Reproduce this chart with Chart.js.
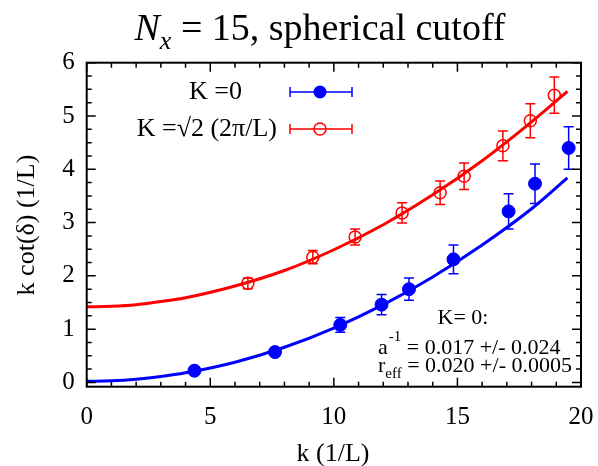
<!DOCTYPE html>
<html>
<head>
<meta charset="utf-8">
<script src="https://cdn.jsdelivr.net/npm/chart.js@4.4.1/dist/chart.umd.min.js"></script>
<style>
  html, body { margin: 0; padding: 0; background: #fff; }
  #wrap { width: 598px; height: 466px; }
</style>
</head>
<body>
<div id="wrap"><canvas id="phaseChart"></canvas></div>
<script>
// K = 0 frame (filled circles)
const blueK   = [4.36, 7.62, 10.26, 11.93, 13.04, 14.84, 17.07, 18.14, 19.50];
const blueV   = [0.22, 0.57, 1.08, 1.46, 1.75, 2.31, 3.21, 3.73, 4.40];
const blueErr = [0.06, 0.07, 0.14, 0.19, 0.21, 0.27, 0.33, 0.37, 0.40];

// K = sqrt(2) (2pi/L) frame (open circles)
const redK   = [6.52, 9.15, 10.86, 12.76, 14.30, 15.27, 16.84, 17.95, 18.92];
const redV   = [1.86, 2.35, 2.73, 3.18, 3.56, 3.87, 4.44, 4.91, 5.39];
const redErr = [0.10, 0.125, 0.15, 0.19, 0.22, 0.25, 0.28, 0.32, 0.34];

// fitted curves, sampled along k
const fitK    = [0, 1, 2, 3, 4, 6, 8, 10, 12, 14, 16, 18, 19.45];
const blueFit = [0.02, 0.03, 0.06, 0.11, 0.18, 0.38, 0.66, 1.02, 1.46, 1.98, 2.58, 3.26, 3.84];
const redFit  = [1.42, 1.43, 1.46, 1.52, 1.59, 1.81, 2.10, 2.49, 2.96, 3.52, 4.16, 4.89, 5.46];

const xTicks = [0, 5, 10, 15, 20];
const yTicks = [0, 1, 2, 3, 4, 5, 6];

const BLUE = '#0000ff';
const RED = '#ff0000';
const serif = '"Liberation Serif", "DejaVu Serif", serif';

const pts = (xs, ys) => xs.map((x, i) => ({ x: x, y: ys[i] }));

// vertical error bars with caps
const errorBars = {
    id: 'errorBars',
    beforeDatasetsDraw(chart) {
        const { ctx, scales: { x, y } } = chart;
        const sets = [[blueK, blueV, blueErr, BLUE], [redK, redV, redErr, RED]];
        ctx.save();
        ctx.lineWidth = 1.5;
        sets.forEach(([ks, vs, es, color]) => {
            ctx.strokeStyle = color;
            ks.forEach((k, i) => {
                const px = x.getPixelForValue(k);
                const top = y.getPixelForValue(vs[i] + es[i]);
                const bot = y.getPixelForValue(vs[i] - es[i]);
                ctx.beginPath();
                ctx.moveTo(px, top); ctx.lineTo(px, bot);
                ctx.moveTo(px - 5, top); ctx.lineTo(px + 5, top);
                ctx.moveTo(px - 5, bot); ctx.lineTo(px + 5, bot);
                ctx.stroke();
            });
        });
        ctx.restore();
    }
};

// frame, inward ticks, title, key and fit text
const decorations = {
    id: 'decorations',
    afterDraw(chart) {
        const { ctx, chartArea: a, scales: { x, y } } = chart;
        ctx.save();

        // ticks on all four sides
        ctx.strokeStyle = '#000';
        ctx.lineWidth = 1.5;
        ctx.beginPath();
        for (let k = 0; k <= 20; k++) {
            const px = x.getPixelForValue(k);
            const len = k % 5 === 0 ? 9 : 5;
            ctx.moveTo(px, a.bottom); ctx.lineTo(px, a.bottom - len);
            ctx.moveTo(px, a.top); ctx.lineTo(px, a.top + len);
        }
        for (let j = 0; j <= 24; j++) {
            const py = y.getPixelForValue(j / 4);
            const len = j % 4 === 0 ? 9 : 5;
            ctx.moveTo(a.left, py); ctx.lineTo(a.left + len, py);
            ctx.moveTo(a.right, py); ctx.lineTo(a.right - len, py);
        }
        ctx.stroke();

        ctx.lineWidth = 2;
        ctx.strokeRect(a.left, a.top, a.right - a.left, a.bottom - a.top);

        ctx.fillStyle = '#000';
        ctx.textBaseline = 'alphabetic';

        // title: N_x = 15, spherical cutoff
        const fN = 'italic 38px ' + serif;
        const fSub = 'italic 26px ' + serif;
        const fRest = '38px ' + serif;
        const rest = ' = 15, spherical cutoff';
        ctx.font = fN; const wN = ctx.measureText('N').width;
        ctx.font = fSub; const wX = ctx.measureText('x').width;
        ctx.font = fRest; const wR = ctx.measureText(rest).width;
        let tx = 320 - (wN + wX + wR) / 2;
        ctx.textAlign = 'left';
        ctx.font = fN; ctx.fillText('N', tx, 40); tx += wN;
        ctx.font = fSub; ctx.fillText('x', tx, 49); tx += wX;
        ctx.font = fRest; ctx.fillText(rest, tx, 40);

        // axis titles
        ctx.font = '26px ' + serif;
        ctx.textAlign = 'center';
        ctx.textBaseline = 'middle';
        ctx.fillText('k (1/L)', 333, 454);
        ctx.save();
        ctx.translate(27, 225);
        ctx.rotate(-Math.PI / 2);
        ctx.fillText('k cot(\u03b4) (1/L)', 0, 0);
        ctx.restore();

        // key
        ctx.textAlign = 'right';
        ctx.font = '26px ' + serif;
        ctx.fillText('K =0', 242, 92);
        ctx.fillText('K =\u221a2 (2\u03c0/L)', 277, 129);
        const keyRow = (yy, color, filled) => {
            ctx.strokeStyle = color;
            ctx.fillStyle = color;
            ctx.lineWidth = 1.5;
            ctx.beginPath();
            ctx.moveTo(290, yy); ctx.lineTo(352, yy);
            ctx.moveTo(290, yy - 5); ctx.lineTo(290, yy + 5);
            ctx.moveTo(352, yy - 5); ctx.lineTo(352, yy + 5);
            ctx.stroke();
            ctx.beginPath();
            ctx.arc(320, yy, filled ? 6.5 : 6, 0, Math.PI * 2);
            if (filled) ctx.fill(); else ctx.stroke();
        };
        keyRow(92, BLUE, true);
        keyRow(129, RED, false);

        // fit parameters for K = 0
        ctx.fillStyle = '#000';
        ctx.textBaseline = 'alphabetic';
        ctx.textAlign = 'center';
        ctx.font = '22px ' + serif;
        ctx.fillText('K= 0:', 463, 324);
        ctx.textAlign = 'left';
        let ax = 378;
        ctx.font = '22px ' + serif; ctx.fillText('a', ax, 354); ax += ctx.measureText('a').width;
        ctx.font = '15px ' + serif; ctx.fillText('-1', ax + 1, 341); ax += ctx.measureText('-1').width + 1;
        ctx.font = '22px ' + serif; ctx.fillText(' = 0.017 +/- 0.024', ax, 354);
        let rx = 378;
        ctx.fillText('r', rx, 372); rx += ctx.measureText('r').width;
        ctx.font = '15px ' + serif; ctx.fillText('eff', rx, 378); rx += ctx.measureText('eff').width;
        ctx.font = '22px ' + serif; ctx.fillText(' = 0.020 +/- 0.0005', rx, 372);

        ctx.restore();
    }
};

const ctx = document.getElementById('phaseChart').getContext('2d');
const phaseChart = new Chart(ctx, {
    type: 'scatter',
    data: {
        datasets: [
            {
                label: 'fit K=0',
                type: 'line',
                data: pts(fitK, blueFit),
                borderColor: BLUE,
                borderWidth: 3,
                pointRadius: 0,
                tension: 0.4,
                cubicInterpolationMode: 'monotone',
                fill: false
            },
            {
                label: 'fit K=sqrt2',
                type: 'line',
                data: pts(fitK, redFit),
                borderColor: RED,
                borderWidth: 3,
                pointRadius: 0,
                tension: 0.4,
                cubicInterpolationMode: 'monotone',
                fill: false
            },
            {
                label: 'K =0',
                data: pts(blueK, blueV),
                pointRadius: 6.5,
                pointBackgroundColor: BLUE,
                pointBorderColor: BLUE,
                pointBorderWidth: 1
            },
            {
                label: 'K =\u221a2 (2\u03c0/L)',
                data: pts(redK, redV),
                pointRadius: 6,
                pointBackgroundColor: 'rgba(0,0,0,0)',
                pointBorderColor: RED,
                pointBorderWidth: 1.5
            }
        ]
    },
    options: {
        responsive: true,
        maintainAspectRatio: false,
        animation: false,
        layout: { padding: { top: 62.7, right: 17, left: 0, bottom: 0 } },
        plugins: {
            legend: { display: false },
            title: { display: false },
            tooltip: { enabled: false }
        },
        scales: {
            x: {
                type: 'linear',
                min: 0,
                max: 20,
                grid: { display: false, drawTicks: false },
                border: { display: false },
                afterFit: (s) => {
                    s.height = 79.3;
                    s.paddingLeft = 0;
                    s.paddingRight = 0;
                },
                afterBuildTicks: (s) => { s.ticks = xTicks.map(v => ({ value: v })); },
                ticks: {
                    color: '#000',
                    padding: 16,
                    maxRotation: 0,
                    font: { family: serif, size: 25 }
                }
            },
            y: {
                type: 'linear',
                min: -0.08,
                max: 6,
                grid: { display: false, drawTicks: false },
                border: { display: false },
                afterFit: (s) => {
                    s.width = 86.7;
                    s.paddingTop = 0;
                    s.paddingBottom = 0;
                },
                afterBuildTicks: (s) => { s.ticks = yTicks.map(v => ({ value: v })); },
                ticks: {
                    color: '#000',
                    padding: 12,
                    font: { family: serif, size: 25 }
                }
            }
        }
    },
    plugins: [errorBars, decorations]
});
</script>
</body>
</html>
